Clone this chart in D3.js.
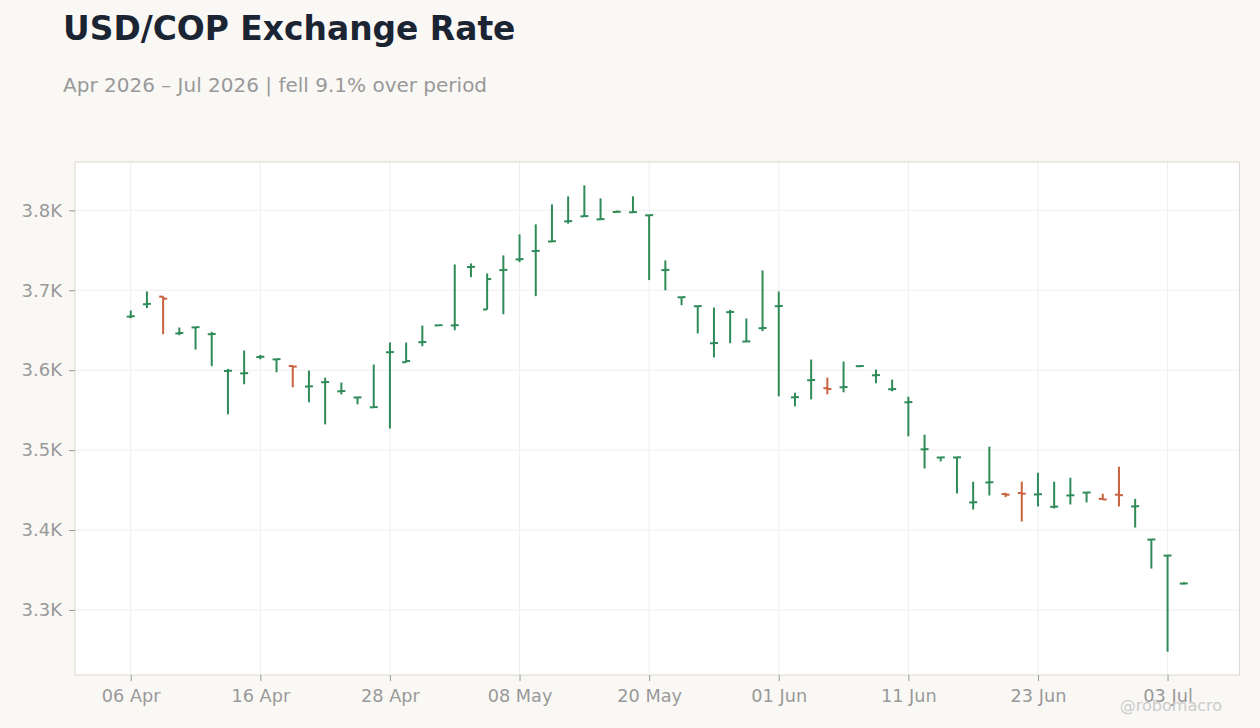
<!DOCTYPE html>
<html>
<head>
<meta charset="utf-8">
<script src="https://cdn.jsdelivr.net/npm/d3@7"></script>
<style>
  html, body { margin: 0; padding: 0; background: #f9f8f5; }
  svg { display: block; font-family: "DejaVu Sans", sans-serif; }
</style>
</head>
<body>
<svg id="chart" width="1260" height="728"></svg>
<script>
const dates = [
  "2026-04-06","2026-04-07","2026-04-08","2026-04-09","2026-04-10",
  "2026-04-13","2026-04-14","2026-04-15","2026-04-16","2026-04-17",
  "2026-04-20","2026-04-21","2026-04-22","2026-04-23","2026-04-24",
  "2026-04-27","2026-04-28","2026-04-29","2026-04-30","2026-05-01",
  "2026-05-04","2026-05-05","2026-05-06","2026-05-07","2026-05-08",
  "2026-05-11","2026-05-12","2026-05-13","2026-05-14","2026-05-15",
  "2026-05-18","2026-05-19","2026-05-20","2026-05-21","2026-05-22",
  "2026-05-25","2026-05-26","2026-05-27","2026-05-28","2026-05-29",
  "2026-06-01","2026-06-02","2026-06-03","2026-06-04","2026-06-05",
  "2026-06-08","2026-06-09","2026-06-10","2026-06-11","2026-06-12",
  "2026-06-15","2026-06-16","2026-06-17","2026-06-18","2026-06-19",
  "2026-06-22","2026-06-23","2026-06-24","2026-06-25","2026-06-26",
  "2026-06-29","2026-06-30","2026-07-01","2026-07-02","2026-07-03",
  "2026-07-06"
];
const openV = [
  3667.0,3682.5,3692.0,3646.0,3653.5,3645.0,3599.0,3596.0,3616.5,3613.5,
  3605.3,3579.5,3584.9,3573.6,3565.8,3553.5,3622.4,3610.0,3635.0,3656.0,
  3656.0,3729.0,3676.0,3725.2,3738.6,3749.0,3761.0,3786.2,3792.5,3788.7,
  3797.9,3797.5,3793.7,3725.2,3691.2,3680.0,3633.7,3672.6,3635.8,3652.5,
  3680.0,3566.0,3587.4,3577.5,3578.6,3605.0,3593.6,3576.1,3559.8,3500.9,
  3490.7,3490.8,3434.5,3459.5,3445.0,3446.3,3444.5,3429.0,3443.2,3446.8,
  3439.0,3444.3,3429.5,3388.0,3368.0,3333.0
];
const highV = [
  3674.7,3698.5,3692.5,3653.4,3654.0,3648.0,3601.6,3624.6,3619.0,3614.0,
  3605.6,3599.5,3590.7,3584.5,3566.3,3607.0,3634.6,3634.6,3655.9,3656.6,
  3732.3,3733.6,3721.0,3743.6,3770.0,3782.5,3807.5,3817.5,3831.3,3815.0,
  3799.6,3817.5,3794.2,3737.3,3691.6,3680.4,3678.4,3675.5,3664.7,3724.8,
  3698.5,3571.9,3613.3,3590.7,3610.8,3605.8,3600.8,3588.2,3566.9,3519.3,
  3491.1,3491.2,3460.4,3504.3,3446.6,3460.4,3471.7,3460.4,3465.4,3447.2,
  3445.4,3479.2,3439.0,3388.3,3368.3,3334.7
];
const lowV = [
  3665.0,3677.6,3645.0,3643.7,3625.8,3605.0,3544.8,3582.4,3613.6,3597.4,
  3578.6,3559.8,3532.2,3569.8,3557.3,3553.0,3527.0,3609.6,3630.0,3655.5,
  3650.0,3716.4,3675.7,3670.0,3735.2,3692.6,3760.6,3783.3,3792.2,3788.4,
  3797.3,3797.2,3712.7,3700.0,3681.3,3646.0,3616.0,3633.7,3635.5,3648.8,
  3567.3,3554.8,3563.5,3569.8,3572.3,3603.8,3583.6,3573.6,3517.2,3477.0,
  3485.9,3445.7,3425.7,3443.2,3441.2,3410.7,3429.5,3427.0,3432.0,3434.5,
  3437.6,3429.5,3403.1,3351.8,3247.8,3332.0
];
const closeV = [
  3667.5,3683.0,3689.5,3646.5,3653.8,3645.3,3599.3,3596.3,3616.8,3613.8,
  3604.5,3579.8,3585.2,3573.9,3566.0,3553.8,3622.7,3611.5,3635.3,3656.3,
  3656.3,3729.3,3714.0,3725.5,3738.9,3749.3,3761.3,3786.5,3792.8,3789.0,
  3798.2,3797.8,3794.0,3725.5,3691.4,3680.2,3634.0,3672.9,3636.0,3652.8,
  3680.3,3566.3,3587.7,3576.5,3578.9,3605.2,3593.9,3576.4,3560.1,3501.2,
  3490.9,3491.0,3434.8,3459.8,3444.2,3445.5,3444.8,3429.3,3443.5,3447.0,
  3438.2,3443.6,3429.8,3388.2,3368.1,3333.2
];
const yTickValues = [3300, 3400, 3500, 3600, 3700, 3800];
const titleText = "USD/COP Exchange Rate";
const subtitleText = "Apr 2026 \u2013 Jul 2026 | fell 9.1% over period";
const watermark = "@robomacro";

const parseDate = d3.timeParse("%Y-%m-%d");
const data = dates.map((d, i) => ({
  date: parseDate(d), key: d, open: openV[i], high: highV[i], low: lowV[i], close: closeV[i]
}));

const svg = d3.select("#chart");
const plot = { left: 75, top: 162, right: 1239.5, bottom: 675 };
const UP = "#2e8b57", DOWN = "#c8623f";

const x = d3.scalePoint()
  .domain(dates)
  .range([plot.left, plot.right])
  .padding(3.44);

const lo = d3.min(lowV), hi = d3.max(highV), pad = (hi - lo) * 0.05;
const y = d3.scaleLinear()
  .domain([lo - pad, hi + pad])
  .range([plot.bottom, plot.top]);

svg.append("rect")
  .attr("x", plot.left).attr("y", plot.top)
  .attr("width", plot.right - plot.left).attr("height", plot.bottom - plot.top)
  .attr("fill", "#ffffff");

const xTicks = dates.filter((d, i) => i % 8 === 0);
const fmtX = d3.timeFormat("%d %b");

const grid = svg.append("g");
grid.selectAll("line.hg").data(yTickValues).join("line")
  .attr("x1", plot.left).attr("x2", plot.right)
  .attr("y1", d => y(d)).attr("y2", d => y(d))
  .attr("stroke", "#eeeeee").attr("stroke-width", 1);
grid.selectAll("line.vg").data(xTicks).join("line")
  .attr("y1", plot.top).attr("y2", plot.bottom)
  .attr("x1", d => x(d)).attr("x2", d => x(d))
  .attr("stroke", "#eeeeee").attr("stroke-width", 1);

svg.append("rect")
  .attr("x", plot.left).attr("y", plot.top)
  .attr("width", plot.right - plot.left).attr("height", plot.bottom - plot.top)
  .attr("fill", "none").attr("stroke", "#ddd8d0").attr("stroke-width", 1);

const yAxis = d3.axisLeft(y).tickValues(yTickValues).tickSize(6).tickPadding(7)
  .tickFormat(v => (v / 1000).toFixed(1) + "K");
const gy = svg.append("g").attr("transform", `translate(${plot.left},0)`).call(yAxis);
gy.select(".domain").remove();
gy.selectAll(".tick line").attr("stroke", "#999999");
gy.selectAll(".tick text").attr("fill", "#999999").attr("font-size", 18)
  .attr("font-family", "DejaVu Sans, sans-serif");

const xAxis = d3.axisBottom(x).tickValues(xTicks).tickSize(6).tickPadding(8)
  .tickFormat(d => fmtX(parseDate(d)));
const gx = svg.append("g").attr("transform", `translate(0,${plot.bottom})`).call(xAxis);
gx.select(".domain").remove();
gx.selectAll(".tick line").attr("stroke", "#999999");
gx.selectAll(".tick text").attr("fill", "#999999").attr("font-size", 17.7)
  .attr("font-family", "DejaVu Sans, sans-serif");

const bars = svg.append("g").selectAll("g").data(data).join("g")
  .attr("stroke", d => d.close >= d.open ? UP : DOWN)
  .attr("stroke-width", 2);
bars.append("line")
  .attr("x1", d => x(d.key)).attr("x2", d => x(d.key))
  .attr("y1", d => y(d.high)).attr("y2", d => y(d.low));
bars.append("line")
  .attr("x1", d => x(d.key) - 4).attr("x2", d => x(d.key))
  .attr("y1", d => y(d.open)).attr("y2", d => y(d.open));
bars.append("line")
  .attr("x1", d => x(d.key)).attr("x2", d => x(d.key) + 4)
  .attr("y1", d => y(d.close)).attr("y2", d => y(d.close));

svg.append("text").attr("x", 63).attr("y", 40)
  .attr("font-size", 32.9).attr("font-weight", "bold").attr("fill", "#1b2433")
  .text(titleText);
svg.append("text").attr("x", 63).attr("y", 92)
  .attr("font-size", 20).attr("fill", "#999999")
  .text(subtitleText);
svg.append("text").attr("x", 1222).attr("y", 711).attr("text-anchor", "end")
  .attr("font-size", 16).attr("fill", "#cccccc")
  .text(watermark);
</script>
</body>
</html>
